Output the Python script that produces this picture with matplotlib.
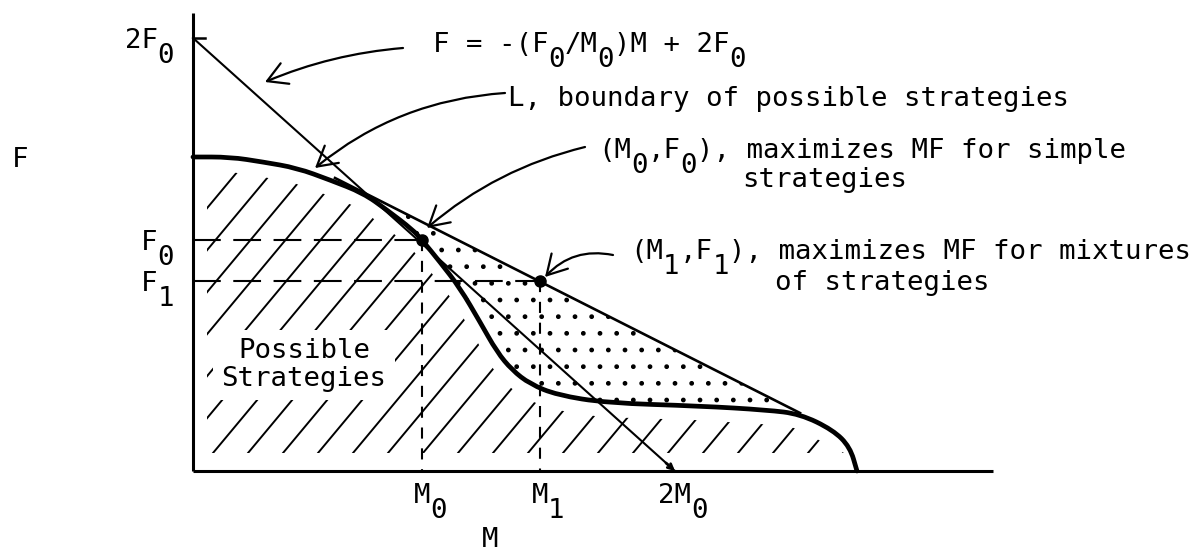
import numpy as np
import matplotlib.pyplot as plt
from matplotlib.patches import Polygon, FancyArrowPatch, PathPatch
from matplotlib.path import Path
from matplotlib.collections import LineCollection
from matplotlib.transforms import offset_copy

plt.rcParams['font.family'] = ['DejaVu Sans Mono']
plt.rcParams['lines.scale_dashes'] = False

# boundary L of possible strategies, (M, F)
curve_m = [0, 37, 70, 104, 137, 170, 194, 220, 229, 247, 267, 287, 304, 319, 337, 364, 414, 507, 574, 607, 640, 657, 664]
curve_f = [314, 314, 309, 303, 291, 278, 261, 241, 231, 209, 183, 149, 119, 101, 87, 76, 68, 65, 61, 57, 41, 24, 0]

# tangent to L through (M1, F1)
tan_m = [142, 607]
tan_f = [293, 58]

# F = -(F0/M0)M + 2F0
line_m = [0, 482]
line_f = [433, 0]

# (M0, F0) and (M1, F1)
pt_m = [229, 347]
pt_f = [231, 190]

axis_m_max = 800
axis_f_max = 458

x_ticks = [229, 347, 482]
x_labels = ["M_0", "M_1", "2M_0"]
y_ticks = [433, 231, 190]
y_labels = ["2F_0", "F_0", "F_1"]

# figure: one data unit = one pixel, origin at the axes corner
fig = plt.figure(figsize=(11.92, 5.56), dpi=100)
ax = fig.add_axes([0, 0, 1, 1])
ax.set_xlim(-193, 1192 - 193)
ax.set_ylim(471 - 556, 471)
ax.axis('off')

FS = 19.7
ADV = 0.602 * FS * 100 / 72
sub_tr = offset_copy(ax.transData, fig=fig, x=0, y=-11, units='points')


def typed(x, y, s, ha='left'):
    # typewriter text, "_x" puts x as a full-size lowered subscript in its own cell
    cells = []
    i = 0
    while i < len(s):
        if s[i] == '_':
            cells.append((s[i + 1], True))
            i += 2
        else:
            cells.append((s[i], False))
            i += 1
    n = len(cells)
    if ha == 'center':
        x -= n * ADV / 2
    elif ha == 'right':
        x -= n * ADV
    # split into runs of normal text and single subscripts
    run, start = '', 0
    for k, (c, is_sub) in enumerate(cells + [('', True)]):
        if is_sub:
            if run.strip():
                lead = len(run) - len(run.lstrip())
                ax.text(x + (start + lead) * ADV, y, run.strip(), ha='left',
                        va='baseline', fontsize=FS, zorder=6)
            run, start = '', k + 1
            if c:
                ax.text(x + k * ADV, y, c, ha='left', va='baseline', fontsize=FS,
                        transform=sub_tr, zorder=6)
        else:
            run += c


# hatched region under L
cm = np.array(curve_m, float)
cf = np.array(curve_f, float)
clip_x = np.clip(cm - 6, 14, None)
clip_y = np.clip(cf - 14, 18, None)
verts = list(zip(clip_x, clip_y)) + [(14, 18)]
clip = Polygon(verts, closed=True, facecolor='none', edgecolor='none')
ax.add_patch(clip)
segs = []
for c in np.arange(-520, 700, 35):
    segs.append([(c, 0), (c + 520 / 1.2, 520)])
hatch = LineCollection(segs, colors='black', linewidths=1.4, zorder=2)
ax.add_collection(hatch)
hatch.set_clip_path(clip)

# stippled region between tangent and L
grid = np.linspace(tan_m[0], tan_m[1], 300)
lower = np.interp(grid, curve_m, curve_f)
upper = np.interp(grid, tan_m, tan_f)
ax.fill_between(grid, lower, upper, where=upper > lower, facecolor='none',
                edgecolor='black', hatch='.', linewidth=0, zorder=2)

# axes
ax.plot([0, axis_m_max], [0, 0], color='black', lw=2.2, zorder=4, solid_capstyle='butt')
ax.plot([0, 0], [0, axis_f_max], color='black', lw=2.2, zorder=4, solid_capstyle='butt')
ax.plot([0, 12], [y_ticks[0], y_ticks[0]], color='black', lw=1.8, zorder=4)

# boundary L, smoothed through the read points
pts = np.column_stack([cm, cf])
pv = [pts[0], (pts[0] + pts[1]) / 2]
pc = [Path.MOVETO, Path.LINETO]
for i in range(1, len(pts) - 1):
    pv += [pts[i], (pts[i] + pts[i + 1]) / 2]
    pc += [Path.CURVE3, Path.CURVE3]
pv.append(pts[-1])
pc.append(Path.LINETO)
ax.add_patch(PathPatch(Path(pv, pc), facecolor='none', edgecolor='black',
                       lw=3.4, zorder=5, joinstyle='round', capstyle='round'))

ax.plot(tan_m, tan_f, color='black', lw=1.9, zorder=4)
ax.plot(line_m, line_f, color='black', lw=1.5, zorder=4)
ax.annotate('', xy=(line_m[1], line_f[1]), xytext=(line_m[1] - 9, 8),
            arrowprops=dict(arrowstyle='->', lw=2, mutation_scale=9, shrinkA=0, shrinkB=0))

# dashed guides
for m, f in zip(pt_m, pt_f):
    ax.plot([0, m], [f, f], color='black', lw=1.5, dashes=(20, 9), zorder=3)
    ax.plot([m, m], [f, 0], color='black', lw=1.5, dashes=(8, 7), zorder=3)
ax.plot(pt_m, pt_f, 'o', color='black', ms=8, zorder=6)

# axis labels
for m, s in zip(x_ticks, x_labels):
    typed(m + 8, -32, s, ha='center')
for f, s in zip(y_ticks, y_labels):
    typed(-19, f - 10, s, ha='right')
typed(-181, 304, "F")
typed(289, -76, "M")

# annotations
typed(240, 419, "F = -(F_0/M_0)M + 2F_0")
typed(315, 365, "L, boundary of possible strategies")
typed(405, 313, "(M_0,F_0), maximizes MF for simple")
typed(549, 284, "strategies")
typed(437, 212, "(M_1,F_1), maximizes MF for mixtures")
typed(582, 181, "of strategies")

ax.text(111, 106, "Possible\nStrategies", ha='center', va='center', fontsize=FS,
        linespacing=1.05, zorder=6,
        bbox=dict(facecolor='white', edgecolor='none', pad=6))

arrows = [((210, 423), (72, 389), 0.08),
          ((312, 378), (122, 303), 0.16),
          ((392, 324), (234, 243), 0.12),
          ((420, 216), (352, 194), 0.28)]
for tail, tip, rad in arrows:
    ax.add_patch(FancyArrowPatch(tail, tip, connectionstyle='arc3,rad=%.2f' % rad,
                                 arrowstyle='->,head_length=0.7,head_width=0.4',
                                 mutation_scale=20, lw=1.6, color='black',
                                 shrinkA=0, shrinkB=0, zorder=7))

fig.savefig('out.png', dpi=100)
